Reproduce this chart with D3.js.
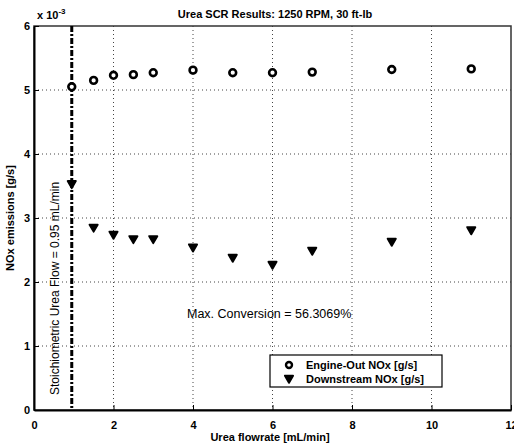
<!DOCTYPE html>
<html>
<head>
<meta charset="utf-8">
<script src="https://cdn.jsdelivr.net/npm/d3@7"></script>
<style>
  body { margin: 0; background: #fff; }
  svg text { font-family: "Liberation Sans", Arial, sans-serif; fill: #000; }
</style>
</head>
<body>
<script>
// values (NOx in units of 1e-3 g/s)
const flowEngine = [0.95, 1.5, 2, 2.5, 3, 4, 5, 6, 7, 9, 11]
const engineOut = [5.05, 5.15, 5.23, 5.24, 5.27, 5.31, 5.27, 5.27, 5.28, 5.32, 5.33]
const flowDown = [0.95, 1.5, 2, 2.5, 3, 4, 5, 6, 7, 9, 11]
const downstream = [3.54, 2.86, 2.75, 2.68, 2.68, 2.55, 2.39, 2.28, 2.50, 2.64, 2.82]
const xTicks = [0, 2, 4, 6, 8, 10, 12]
const yTicks = [0, 1, 2, 3, 4, 5, 6]
const stoichFlow = 0.95

const width = 514
const height = 445
const pLeft = 34, pRight = 511, pTop = 26, pBottom = 410

const svg = d3.select("body")
    .append("svg")
    .attr("width", width)
    .attr("height", height)

const x = d3.scaleLinear().domain([0, 12]).range([pLeft, pRight])
const y = d3.scaleLinear().domain([0, 6]).range([pBottom, pTop])

// grid
svg.append("g")
    .selectAll("line")
    .data(xTicks.slice(1, -1))
    .enter()
    .append("line")
    .attr("x1", d => x(d)).attr("x2", d => x(d))
    .attr("y1", pTop).attr("y2", pBottom)
    .attr("stroke", "#444")
    .attr("stroke-width", 1)
    .attr("stroke-dasharray", "1,3")
svg.append("g")
    .selectAll("line")
    .data(yTicks.slice(1, -1))
    .enter()
    .append("line")
    .attr("y1", d => y(d)).attr("y2", d => y(d))
    .attr("x1", pLeft).attr("x2", pRight)
    .attr("stroke", "#444")
    .attr("stroke-width", 1)
    .attr("stroke-dasharray", "1,3")

// box
svg.append("rect")
    .attr("x", pLeft).attr("y", pTop)
    .attr("width", pRight - pLeft).attr("height", pBottom - pTop)
    .attr("fill", "none")
    .attr("stroke", "#333")
    .attr("stroke-width", 1.5)

const xAxis = d3.axisBottom(x).tickValues(xTicks).tickFormat(d3.format("d"))
    .tickSizeInner(-5).tickSizeOuter(0).tickPadding(11)
svg.append("g")
    .attr("transform", "translate(0," + pBottom + ")")
    .call(xAxis)
    .call(g => g.select(".domain").attr("stroke-width", 2))
    .selectAll("text")
    .style("font-size", "11px")
    .style("font-weight", "bold")

const yAxis = d3.axisLeft(y).tickValues(yTicks).tickFormat(d3.format("d"))
    .tickSizeInner(-5).tickSizeOuter(0).tickPadding(4)
svg.append("g")
    .attr("transform", "translate(" + pLeft + ",0)")
    .call(yAxis)
    .call(g => g.select(".domain").attr("stroke-width", 2))
    .selectAll("text")
    .style("font-size", "11px")
    .style("font-weight", "bold")

// exponent
const expo = svg.append("text")
    .attr("x", 37).attr("y", 19)
    .style("font-size", "11px")
    .style("font-weight", "bold")
expo.append("tspan").text("x 10")
expo.append("tspan").attr("dy", -5).style("font-size", "8px").text("-3")

// title + labels
svg.append("text")
    .attr("x", 275).attr("y", 18)
    .attr("text-anchor", "middle")
    .style("font-size", "11px")
    .style("font-weight", "bold")
    .text("Urea SCR Results: 1250 RPM, 30 ft-lb")
svg.append("text")
    .attr("x", 270).attr("y", 441)
    .attr("text-anchor", "middle")
    .style("font-size", "11px")
    .style("font-weight", "bold")
    .text("Urea flowrate [mL/min]")
svg.append("text")
    .attr("transform", "translate(14," + (pTop + pBottom) / 2 + ") rotate(-90)")
    .attr("text-anchor", "middle")
    .style("font-size", "11px")
    .style("font-weight", "bold")
    .text("NOx emissions [g/s]")

// stoichiometric line
svg.append("line")
    .attr("x1", x(stoichFlow)).attr("x2", x(stoichFlow))
    .attr("y1", pTop).attr("y2", pBottom)
    .attr("stroke", "#000")
    .attr("stroke-width", 3)
    .attr("stroke-dasharray", "6,2,2,2")
svg.append("text")
    .attr("transform", "translate(59,395) rotate(-90)")
    .style("font-size", "12px")
    .text("Stoichiometric Urea Flow = 0.95 mL/min")

svg.append("text")
    .attr("x", 187).attr("y", 318)
    .style("font-size", "12.5px")
    .text("Max. Conversion = 56.3069%")

// markers
const tri = d3.symbol().type(d3.symbolTriangle).size(28)
svg.append("g")
    .selectAll("path")
    .data(downstream)
    .enter()
    .append("path")
    .attr("d", tri)
    .attr("transform", (d, i) => "translate(" + x(flowDown[i]) + "," + y(d) + ") rotate(180)")
    .attr("fill", "#000")
    .attr("stroke", "#000")
    .attr("stroke-width", 2)
    .attr("stroke-linejoin", "round")
svg.append("g")
    .selectAll("circle")
    .data(engineOut)
    .enter()
    .append("circle")
    .attr("cx", (d, i) => x(flowEngine[i]))
    .attr("cy", d => y(d))
    .attr("r", 3.4)
    .attr("fill", "#fff")
    .attr("stroke", "#000")
    .attr("stroke-width", 2.6)

// legend
const lg = svg.append("g").attr("transform", "translate(270,355)")
lg.append("rect")
    .attr("width", 172).attr("height", 32)
    .attr("fill", "#fff")
    .attr("stroke", "#000")
    .attr("stroke-width", 1.2)
lg.append("circle")
    .attr("cx", 19).attr("cy", 10).attr("r", 3)
    .attr("fill", "#fff").attr("stroke", "#000").attr("stroke-width", 2.4)
lg.append("path")
    .attr("d", tri)
    .attr("transform", "translate(19,23) rotate(180)")
    .attr("fill", "#000").attr("stroke", "#000").attr("stroke-width", 2)
    .attr("stroke-linejoin", "round")
lg.append("text").attr("x", 36).attr("y", 14)
    .style("font-size", "11px").style("font-weight", "bold")
    .text("Engine-Out NOx [g/s]")
lg.append("text").attr("x", 36).attr("y", 28)
    .style("font-size", "11px").style("font-weight", "bold")
    .text("Downstream NOx [g/s]")
</script>
</body>
</html>
